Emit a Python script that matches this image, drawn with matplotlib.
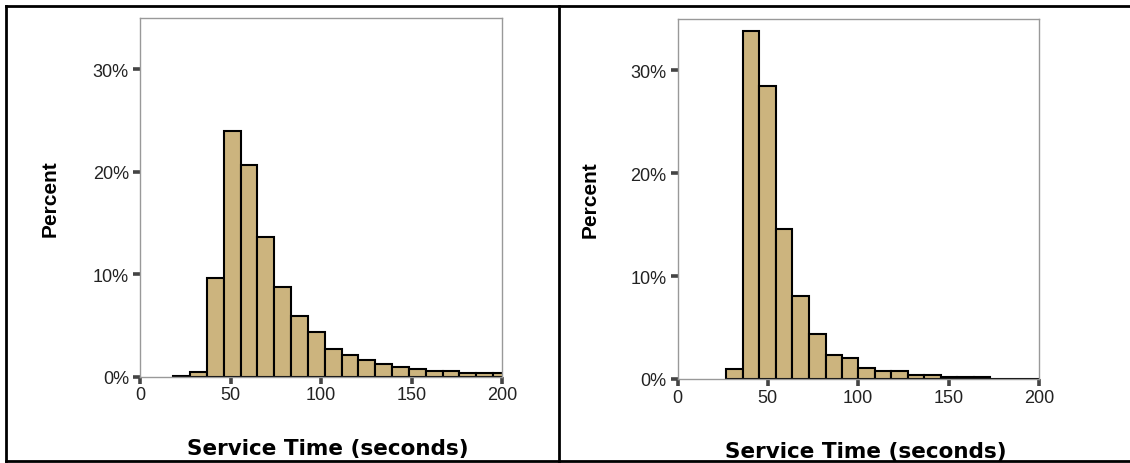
import numpy as np
import matplotlib
matplotlib.use('Agg')
import matplotlib.pyplot as plt
from matplotlib.lines import Line2D
from matplotlib.ticker import FuncFormatter

plt.rcParams['font.family'] = ['Liberation Sans', 'DejaVu Sans']

# Left histogram: bin edges (seconds) and percent per bin
left_edges = [18.4, 27.7, 37.0, 46.3, 55.6, 64.9, 74.2, 83.5, 92.8, 102.1, 111.4,
              120.7, 130.0, 139.3, 148.6, 157.9, 167.2, 176.5, 185.8, 195.1, 204.4]
left_pct = [0.05, 0.5, 9.6, 24.0, 20.7, 13.6, 8.8, 5.9, 4.4, 2.75,
            2.15, 1.6, 1.25, 0.9, 0.75, 0.55, 0.55, 0.35, 0.35, 0.35]

# Right histogram
right_edges = [26.8, 36.0, 45.2, 54.4, 63.6, 72.8, 81.9, 91.0, 100.1, 109.2,
               118.3, 127.4, 136.5, 145.6, 154.7, 163.9, 173.0, 182.1, 191.2, 200.3]
right_pct = [0.95, 33.8, 28.5, 14.6, 8.1, 4.4, 2.35, 2.0, 1.1, 0.8,
             0.8, 0.4, 0.4, 0.2, 0.2, 0.15, 0.03, 0.03, 0.03]

x_ticks = [0, 50, 100, 150, 200]
y_ticks = [0, 10, 20, 30]

bar_color = '#CCB47E'
tick_color = '#444444'
spine_color = '#999999'

fig = plt.figure(figsize=(11.30, 4.64), dpi=100)
W, H = 1130, 464

def make_panel(rect, edges, pct, pl_x):
    ax = fig.add_axes(rect)
    edges = np.array(edges)
    ax.bar(edges[:-1], pct, width=np.diff(edges), align='edge',
           color=bar_color, edgecolor='black', linewidth=1.5)
    ax.set_xlim(0, 200)
    ax.set_ylim(0, 35)
    ax.set_xticks(x_ticks)
    ax.set_yticks(y_ticks)
    ax.yaxis.set_major_formatter(FuncFormatter(lambda v, p: '%d%%' % v))
    ax.tick_params(direction='out', length=5, width=2.6, color=tick_color,
                   labelsize=13, labelcolor='#222222', pad=3)
    ax.tick_params(axis='x', pad=2)
    for s in ax.spines.values():
        s.set_color(spine_color)
        s.set_linewidth(1.0)
    ax.text(pl_x, 0.5, 'Percent', transform=ax.transAxes, rotation=90,
            ha='center', va='center', fontsize=15, fontweight='bold')
    # wider face for the spaced-out axis title
    ax.text(0.52, -0.199, 'Service Time (seconds)', transform=ax.transAxes,
            ha='center', va='center', fontsize=15.5, fontweight='bold',
            family=['DejaVu Sans'])
    return ax

make_panel([140 / W, 1 - 377.7 / H, 362 / W, 358.7 / H], left_edges, left_pct, -0.249)
make_panel([677.5 / W, 1 - 380 / H, 361.5 / W, 360 / H], right_edges, right_pct, -0.242)

# outer frame and divider
def fline(x0, y0, x1, y1):
    fig.add_artist(Line2D([x0 / W, x1 / W], [1 - y0 / H, 1 - y1 / H],
                          color='black', linewidth=2))

fline(6, 7, 1130, 7)
fline(6, 462, 1130, 462)
fline(6, 7, 6, 462)
fline(559, 7, 559, 462)

fig.savefig('out.png', dpi=100)
